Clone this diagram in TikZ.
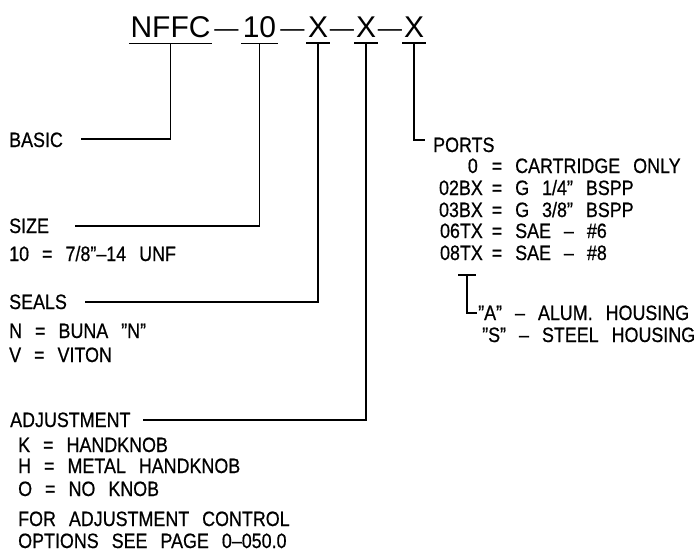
\documentclass[tikz,border=0pt]{standalone}
\usepackage{fontspec}
\setmainfont{Liberation Sans}[FakeStretch=0.86,FakeBold=0.6]
\newfontfamily\titlefont{Liberation Sans}
\newcommand\gp{\hspace{13pt}}
\usetikzlibrary{calc}
\begin{document}
\begin{tikzpicture}[x=1pt,y=-1pt,
  lbl/.style={anchor=base west,inner sep=0pt,font=\fontsize{20.8}{21}\selectfont},
  lble/.style={anchor=base east,inner sep=0pt,font=\fontsize{20.8}{21}\selectfont},
  lblc/.style={anchor=base,inner sep=0pt,font=\fontsize{20.8}{21}\selectfont},
  ttl/.style={anchor=base,inner xsep=1.5pt,inner ysep=6pt,font=\titlefont\fontsize{30}{30}\selectfont},
  ttd/.style={anchor=base,inner sep=0pt,font=\titlefont\fontsize{30}{30}\selectfont},
  ln/.style={line width=1.5pt},
]
\useasboundingbox (0,0) rectangle (695,552);
% title
\node[ttl] (n1) at (170.5,37) {NFFC};
\node[ttd] (d1) at (226.5,36) {\scalebox{1.45}[0.8]{\textendash}};
\node[ttl] (n2) at (259.5,37) {10};
\node[ttd] (d2) at (292.5,36) {\scalebox{1.45}[0.8]{\textendash}};
\node[ttl] (x1) at (318,37) {X};
\node[ttd] (d3) at (342,36) {\scalebox{1.45}[0.8]{\textendash}};
\node[ttl] (x2) at (366,37) {X};
\node[ttd] (d4) at (390,36) {\scalebox{1.45}[0.8]{\textendash}};
\node[ttl] (x3) at (414,37) {X};
\foreach \n in {n1,n2,x1,x2,x3}{\draw[ln] (\n.south west) -- (\n.south east);}
% left labels
\node[lbl] (basic) at (9,147) {BASIC};
\node[lbl] (size) at (9,233) {SIZE};
\node[lbl] (sizev) at (9,261) {10\gp=\gp7/8”\textendash 14\gp UNF};
\node[lbl] (seals) at (9,309) {SEALS};
\node[lbl] (sealn) at (9,338) {N\gp=\gp BUNA\gp”N”};
\node[lbl] (sealv) at (9,362) {V\gp=\gp VITON};
\node[lbl] (adj) at (10,427) {ADJUSTMENT};
\node[lbl] (adjk) at (18,452) {K\gp=\gp HANDKNOB};
\node[lbl] (adjh) at (18,473) {H\gp=\gp METAL\gp HANDKNOB};
\node[lbl] (adjo) at (18,496) {O\gp=\gp NO\gp KNOB};
\node[lbl] (for) at (18,526) {FOR\gp ADJUSTMENT\gp CONTROL};
\node[lbl] (opt) at (18,548) {OPTIONS\gp SEE\gp PAGE\gp 0\textendash 050.0};
% ports
\node[lbl] (ports) at (433,152) {PORTS};
\foreach \y/\x/\c/\d [count=\i] in {173/478/0/{CARTRIDGE\gp ONLY},195/483/02BX/{G\gp 1/4”\gp BSPP},217/483/03BX/{G\gp 3/8”\gp BSPP},238/483/06TX/{SAE\gp\textendash\gp\#6},260/483/08TX/{SAE\gp\textendash\gp\#8}}{
  \node[lble] (pc\i) at (\x,\y) {\c};
  \node[lblc] (pe\i) at (497,\y) {=};
  \node[lbl] (pd\i) at (515,\y) {\d};
}
\node[lbl] (alum) at (478,320) {”A”\gp\textendash\gp ALUM.\gp HOUSING};
\node[lbl] (steel) at (482,342) {”S”\gp\textendash\gp STEEL\gp HOUSING};
% connector ends
\coordinate (bE) at (81,139);
\coordinate (sE) at (75,226);
\coordinate (seE) at (85,302);
\coordinate (aE) at (143,420);
\coordinate (pE) at (425,140);
\coordinate (tT) at (467,275);
\coordinate (alE) at (477,313);
\draw[ln] (n1.south) |- (bE);
\draw[ln] (n2.south) |- (sE);
\draw[ln] (x1.south) |- (seE);
\draw[ln] (x2.south) |- (aE);
\draw[ln] (x3.south) |- (pE);
\draw[ln] ($(tT)+(-9,0)$) -- ($(tT)+(9,0)$);
\draw[ln] (tT) |- (alE);
\end{tikzpicture}
\end{document}
